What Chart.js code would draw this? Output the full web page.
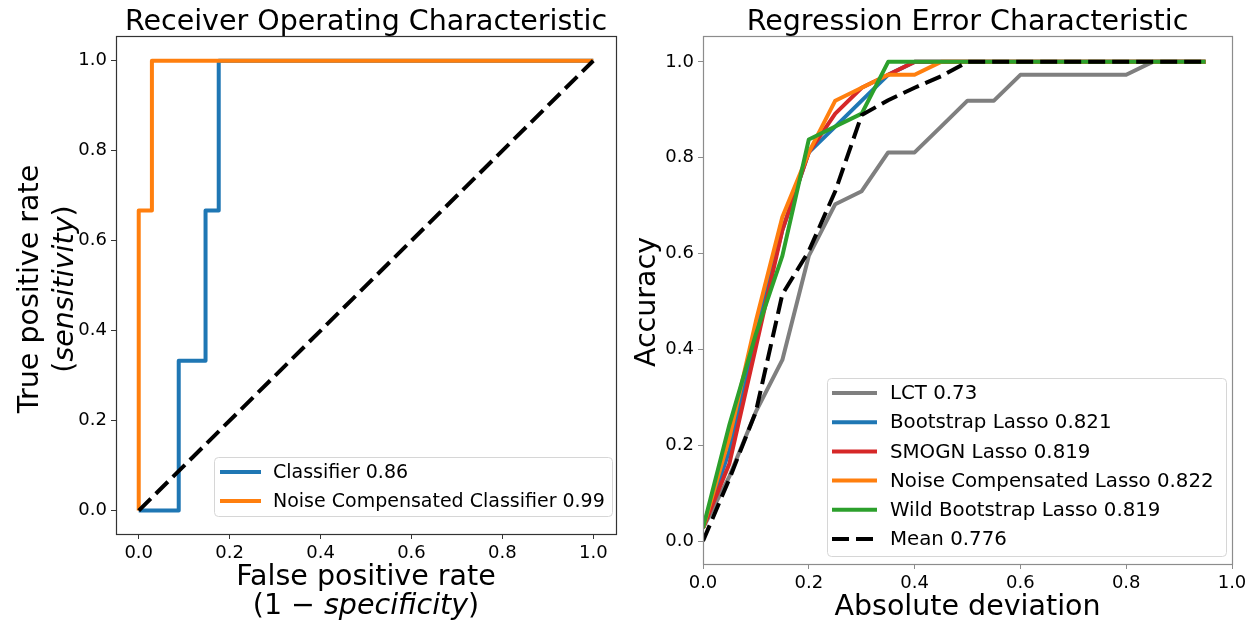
<!DOCTYPE html>
<html lang="en">
  <head>
    <meta charset="UTF-8" />
    <title>ROC / REC curves</title>
    <style>
      body {
        margin: 0;
        background: #fff;
      }
      #wrap {
        position: relative;
        width: 1256px;
        height: 624px;
      }
      canvas {
        position: absolute;
        top: 0;
      }
      #roc {
        left: 0;
      }
      #rec {
        left: 628px;
      }
    </style>
  </head>
  <body>
    <div id="wrap">
      <canvas id="roc" width="628" height="624"></canvas>
      <canvas id="rec" width="628" height="624"></canvas>
    </div>

    <script src="https://cdn.jsdelivr.net/npm/chart.js"></script>
    <script>
      // tick labels shared by both panels
      const axisTicks = [0, 0.2, 0.4, 0.6, 0.8, 1.0];

      // ROC curves
      const clfFpr = [0, 0.088, 0.088, 0.147, 0.147, 0.176, 0.176, 1.0];
      const clfTpr = [0, 0, 0.333, 0.333, 0.667, 0.667, 1.0, 1.0];
      const noiseFpr = [0, 0, 0.029, 0.029, 1.0];
      const noiseTpr = [0, 0.667, 0.667, 1.0, 1.0];
      const chance = [0, 1];
      const rocNames = ["Classifier 0.86", "Noise Compensated Classifier 0.99"];

      // REC curves
      const deviation = [0, 0.05, 0.1, 0.15, 0.2, 0.25, 0.3, 0.35, 0.4, 0.45, 0.5, 0.55, 0.6, 0.65, 0.7, 0.75, 0.8, 0.85, 0.9, 0.95];
      const lct = [0.027, 0.135, 0.27, 0.378, 0.595, 0.703, 0.73, 0.811, 0.811, 0.865, 0.919, 0.919, 0.973, 0.973, 0.973, 0.973, 0.973, 1.0, 1.0, 1.0];
      const bootstrap = [0.027, 0.189, 0.432, 0.649, 0.811, 0.865, 0.919, 0.973, 1.0, 1.0, 1.0, 1.0, 1.0, 1.0, 1.0, 1.0, 1.0, 1.0, 1.0, 1.0];
      const smogn = [0.027, 0.162, 0.405, 0.649, 0.811, 0.892, 0.946, 0.973, 1.0, 1.0, 1.0, 1.0, 1.0, 1.0, 1.0, 1.0, 1.0, 1.0, 1.0, 1.0];
      const noiseComp = [0.027, 0.216, 0.459, 0.676, 0.811, 0.919, 0.946, 0.973, 0.973, 1.0, 1.0, 1.0, 1.0, 1.0, 1.0, 1.0, 1.0, 1.0, 1.0, 1.0];
      const wild = [0.027, 0.243, 0.432, 0.595, 0.838, 0.865, 0.892, 1.0, 1.0, 1.0, 1.0, 1.0, 1.0, 1.0, 1.0, 1.0, 1.0, 1.0, 1.0, 1.0];
      const mean = [0, 0.13, 0.27, 0.515, 0.605, 0.73, 0.889, 0.92, 0.946, 0.97, 1.0, 1.0, 1.0, 1.0, 1.0, 1.0, 1.0, 1.0, 1.0, 1.0];
      const recNames = ["LCT 0.73", "Bootstrap Lasso 0.821", "SMOGN Lasso 0.819", "Noise Compensated Lasso 0.822", "Wild Bootstrap Lasso 0.819", "Mean 0.776"];

      const FONT = "'DejaVu Sans', sans-serif";
      const DASH = [17, 7];
      const pts = (xs, ys) => xs.map((x, i) => ({ x: x, y: ys[i] }));

      function line(label, data, color, order, dash) {
        return {
          label: label,
          data: data,
          borderColor: color,
          backgroundColor: color,
          borderWidth: 4,
          borderDash: dash || [],
          borderCapStyle: "butt",
          borderJoinStyle: "round",
          pointRadius: 0,
          tension: 0,
          fill: false,
          order: order,
        };
      }

      function axis(min, max, color, fit) {
        return {
          type: "linear",
          min: min,
          max: max,
          afterBuildTicks: (s) => {
            s.ticks = axisTicks.map((v) => ({ value: v }));
          },
          afterFit: fit,
          grid: { drawOnChartArea: false, drawTicks: true, tickLength: 5, color: color, tickColor: color },
          border: { display: false },
          ticks: {
            color: "#000",
            font: { family: FONT, size: 18 },
            padding: 4,
            callback: (v) => v.toFixed(1),
          },
        };
      }

      // text made of normal / italic pieces, centred on (x) with baseline at (y)
      function drawParts(ctx, parts, x, y, rot, size) {
        ctx.save();
        ctx.translate(x, y);
        ctx.rotate(rot);
        const fontOf = (p) => (p.it ? "italic " : "") + size + "px " + FONT;
        let total = 0;
        parts.forEach((p) => {
          ctx.font = fontOf(p);
          total += ctx.measureText(p.t).width;
        });
        let cx = -total / 2;
        ctx.textAlign = "left";
        ctx.textBaseline = "alphabetic";
        ctx.fillStyle = "#000";
        parts.forEach((p) => {
          ctx.font = fontOf(p);
          ctx.fillText(p.t, cx, 0);
          cx += ctx.measureText(p.t).width;
        });
        ctx.restore();
      }

      const decor = {
        id: "decor",
        afterDatasetsDraw(chart, args, o) {
          const ctx = chart.ctx;
          const a = chart.chartArea;
          ctx.save();
          // axes frame
          ctx.strokeStyle = o.frame;
          ctx.lineWidth = 1.2;
          ctx.strokeRect(Math.round(a.left) + 0.5, Math.round(a.top) + 0.5, Math.round(a.right - a.left), Math.round(a.bottom - a.top));

          // legend box
          const L = o.legend;
          ctx.fillStyle = "rgba(255,255,255,0.8)";
          ctx.strokeStyle = "#d6d6d6";
          ctx.lineWidth = 1;
          ctx.beginPath();
          ctx.roundRect(L.x + 0.5, L.y + 0.5, L.w, L.h, 4);
          ctx.fill();
          ctx.stroke();
          ctx.font = L.size + "px " + FONT;
          ctx.textBaseline = "middle";
          ctx.textAlign = "left";
          for (let i = 0; i < L.count; i++) {
            const ds = chart.data.datasets[i];
            const cy = L.y + L.first + i * L.row;
            ctx.strokeStyle = ds.borderColor;
            ctx.lineWidth = 4;
            ctx.lineCap = "butt";
            ctx.setLineDash(ds.borderDash);
            ctx.beginPath();
            ctx.moveTo(L.hx0, cy);
            ctx.lineTo(L.hx1, cy);
            ctx.stroke();
            ctx.setLineDash([]);
            ctx.fillStyle = "#000";
            ctx.fillText(ds.label, L.tx, cy + 1);
          }
          ctx.restore();
        },
        afterDraw(chart, args, o) {
          o.texts.forEach((t) => drawParts(chart.ctx, t.parts, t.x, t.y, t.rot || 0, t.size));
        },
      };

      Chart.defaults.font.family = FONT;

      new Chart(document.getElementById("roc"), {
        type: "line",
        data: {
          datasets: [
            line(rocNames[0], pts(clfFpr, clfTpr), "#1f77b4", 2),
            line(rocNames[1], pts(noiseFpr, noiseTpr), "#ff7f0e", 1),
            line("chance", pts(chance, chance), "#000", 0, DASH),
          ],
        },
        options: {
          responsive: false,
          animation: false,
          layout: { padding: { left: 66, right: 12, top: 36, bottom: 60 } },
          scales: {
            x: axis(-0.05, 1.05, "#333", (s) => { s.height = 30; }),
            y: axis(-0.052, 1.055, "#333", (s) => { s.width = 50; }),
          },
          plugins: {
            legend: { display: false },
            tooltip: { enabled: false },
            decor: {
              frame: "#333",
              legend: { x: 214, y: 457, w: 398, h: 59, first: 15, row: 29, hx0: 220, hx1: 261, tx: 273, count: 2, size: 19 },
              texts: [
                { parts: [{ t: "Receiver Operating Characteristic" }], x: 366, y: 30, size: 28.5 },
                { parts: [{ t: "True positive rate" }], x: 38, y: 289, rot: -Math.PI / 2, size: 28.5 },
                { parts: [{ t: "(" }, { t: "sensitivity", it: true }, { t: ")" }], x: 73, y: 289, rot: -Math.PI / 2, size: 28.5 },
                { parts: [{ t: "False positive rate" }], x: 366, y: 585, size: 28.5 },
                { parts: [{ t: "(1 \u2212 " }, { t: "specificity", it: true }, { t: ")" }], x: 366, y: 614, size: 28.5 },
              ],
            },
          },
        },
        plugins: [decor],
      });

      const recColors = ["#7f7f7f", "#1f77b4", "#d62728", "#ff7f0e", "#2ca02c", "#000"];
      const recSeries = [lct, bootstrap, smogn, noiseComp, wild, mean];

      new Chart(document.getElementById("rec"), {
        type: "line",
        data: {
          datasets: recSeries.map((s, i) =>
            line(recNames[i], pts(deviation, s), recColors[i], 5 - i, i === 5 ? DASH : [])
          ),
        },
        options: {
          responsive: false,
          animation: false,
          layout: { padding: { left: 25, right: 24, top: 36, bottom: 30 } },
          scales: {
            x: axis(0, 1, "#8c8c8c", (s) => { s.height = 30; }),
            y: axis(-0.048, 1.054, "#8c8c8c", (s) => { s.width = 50; }),
          },
          plugins: {
            legend: { display: false },
            tooltip: { enabled: false },
            decor: {
              frame: "#8c8c8c",
              legend: { x: 199, y: 378, w: 399, h: 178, first: 15, row: 29.2, hx0: 204, hx1: 249, tx: 262, count: 6, size: 19.8 },
              texts: [
                { parts: [{ t: "Regression Error Characteristic" }], x: 339.5, y: 30, size: 28.5 },
                { parts: [{ t: "Accuracy" }], x: 27, y: 302, rot: -Math.PI / 2, size: 28.5 },
                { parts: [{ t: "Absolute deviation" }], x: 339.5, y: 615, size: 28.5 },
              ],
            },
          },
        },
        plugins: [decor],
      });
    </script>
  </body>
</html>
